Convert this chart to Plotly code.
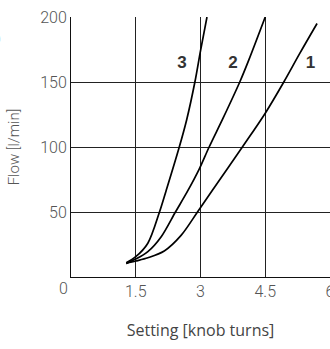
import plotly.graph_objects as go

# Curve data (setting in knob turns, flow in l/min)
x1 = [1.28, 1.5, 1.78, 2.16, 2.55, 2.93, 3.28, 3.97, 4.5, 4.93, 5.3, 5.7]
y1 = [10.5, 12.3, 14.8, 20, 32, 50, 67, 100, 126, 150, 172, 195]
x2 = [1.28, 1.5, 1.78, 2.09, 2.42, 2.70, 2.97, 3.2, 3.52, 3.91, 4.12, 4.5]
y2 = [10.5, 13.8, 19.5, 31, 50, 66, 83, 100, 122, 150, 167, 200]
x3 = [1.28, 1.5, 1.78, 2.05, 2.2, 2.5, 2.68, 2.87, 3.0, 3.15]
y3 = [11, 15.6, 26, 50, 66, 99, 121, 150, 174, 200]

curve_labels = ["1", "2", "3"]
label_x = [5.55, 3.75, 2.57]
label_y = [164, 164, 164]

x_ticks = [0, 1.5, 3, 4.5, 6]
x_ticktext = ["0", "1.5", "3", "4.5", "6"]
y_ticks = [50, 100, 150, 200]

tick_font = dict(family="Roboto, sans-serif", size=16, color="#555", weight=300)

fig = go.Figure()
for xs, ys in [(x1, y1), (x2, y2), (x3, y3)]:
    fig.add_trace(go.Scatter(x=xs, y=ys, mode="lines",
                             line=dict(color="black", width=1.7, shape="spline", smoothing=0.9),
                             showlegend=False, hoverinfo="skip"))

fig.add_trace(go.Scatter(x=label_x, y=label_y, mode="text", text=curve_labels,
                         textfont=dict(family="Liberation Sans, Arial, sans-serif", size=17, color="#333", weight="bold"),
                         showlegend=False, hoverinfo="skip"))

# x tick "0" sits slightly left of the axis origin in the reference
fig.add_annotation(xref="paper", yref="paper", x=-8 / 259, y=-11 / 260, xanchor="center", yanchor="middle",
                   text=x_ticktext[0], showarrow=False, font=tick_font)

# partially visible glyph at the left edge
fig.add_annotation(xref="paper", yref="paper", x=-68 / 259, y=0.915, xanchor="right", yanchor="middle",
                   text="O", showarrow=False, font=dict(family="Roboto", size=16, color="#666", weight=300))

fig.update_layout(
    width=330, height=349,
    margin=dict(l=71, r=0, t=17, b=72, autoexpand=False),
    plot_bgcolor="white", paper_bgcolor="white",
    xaxis=dict(range=[0, 6], tickvals=x_ticks, ticktext=[""] + x_ticktext[1:], showgrid=True,
               gridcolor="#222", gridwidth=1, ticklabeloverflow="allow", automargin=False,
               zeroline=False, showline=True, linecolor="#111", linewidth=1, ticks="", ticklen=0,
               tickfont=tick_font,
               title=dict(text="Setting [knob turns]",
                          font=dict(family="Open Sans, Liberation Sans, Arial", size=16, color="#444"),
                          standoff=24)),
    yaxis=dict(range=[0, 200], tickvals=y_ticks, showgrid=True, gridcolor="#222", gridwidth=1,
               automargin=False,
               zeroline=False, showline=True, linecolor="#111", linewidth=1, ticks="", ticklen=0,
               tickfont=tick_font,
               title=dict(text="Flow [l/min]", font=dict(family="Roboto", size=15, color="#555", weight=300),
                          standoff=16)),
)

fig.write_html("out.html")
